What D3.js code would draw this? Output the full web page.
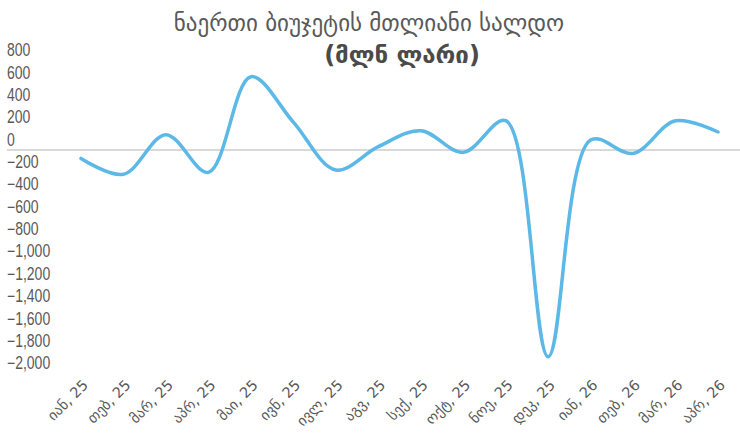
<!DOCTYPE html>
<html><head><meta charset="utf-8">
<script src="https://cdn.jsdelivr.net/npm/d3@7"></script>
<style>body{margin:0;background:#fff}svg{display:block}</style>
</head><body>
<svg id="c" width="740" height="441"></svg>
<script>
const months = ["იან, 25","თებ, 25","მარ, 25","აპრ, 25","მაი, 25","ივნ, 25","ივლ, 25","აგვ, 25","სექ, 25","ოქტ, 25","ნოე, 25","დეკ, 25","იან, 26","თებ, 26","მარ, 26","აპრ, 26"];
const balance = [-75,-217,137,-200,656,250,-179,30,173,-21,262,-1849,90,-30,262,161];
const yTicks = [800,600,400,200,0,-200,-400,-600,-800,-1000,-1200,-1400,-1600,-1800,-2000];
const titleLines = ["ნაერთი ბიუჯეტის მთლიანი სალდო","(მლნ ლარი)"];

const svg = d3.select("#c");
const x = d3.scalePoint().domain(months).range([81,718]);
const y = d3.scaleLinear().domain([-2000,800]).range([373.6,60.6]);

// zero axis line
svg.append("line").attr("x1",7).attr("x2",740).attr("y1",y(0)).attr("y2",y(0))
  .attr("stroke","#d9d9d9").attr("stroke-width",2);

// y labels
const fmt = d3.format(",");
svg.append("g").selectAll("text").data(yTicks).join("text")
  .attr("transform",d=>`translate(7,${y(d)-10.5}) scale(0.8,1)`)
  .attr("dy","0.35em")
  .attr("font-family","'Liberation Sans',sans-serif")
  .attr("font-size",17.5).attr("fill","#595959")
  .text(d=>fmt(d));

// x labels
svg.append("g").selectAll("text").data(months).join("text")
  .attr("transform",d=>`translate(${x(d)+8},386) rotate(-45)`)
  .attr("text-anchor","end")
  .attr("font-family","'DejaVu Sans',sans-serif")
  .attr("font-size",14.5).attr("fill","#595959")
  .text(d=>d);

// line
const line = d3.line().x((d,i)=>x(months[i])).y(d=>y(d)).curve(d3.curveCatmullRom.alpha(0.5));
svg.append("path").datum(balance).attr("d",line)
  .attr("fill","none").attr("stroke","#5cb8e6").attr("stroke-width",3.5)
  .attr("stroke-linecap","round").attr("stroke-linejoin","round");

// title
svg.append("text").attr("x",369).attr("y",31).attr("text-anchor","middle")
  .attr("font-family","'DejaVu Sans',sans-serif").attr("font-size",23).attr("fill","#595959")
  .text(titleLines[0]);
svg.append("text").attr("x",402).attr("y",63).attr("text-anchor","middle")
  .attr("font-family","'DejaVu Sans',sans-serif").attr("font-size",24).attr("font-weight","bold").attr("fill","#4a4a4a")
  .text(titleLines[1]);
</script>
</body></html>
